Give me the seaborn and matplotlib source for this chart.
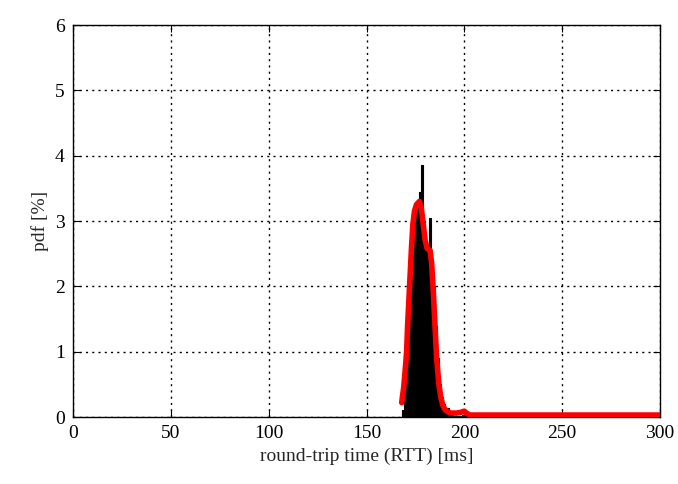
import numpy as np
import pandas as pd
import matplotlib
matplotlib.use("Agg")
import matplotlib.pyplot as plt
import seaborn as sns

# Histogram (black), 1-ms bins: edges and pdf [%]
hist_edges_ms = [168, 169, 170, 171, 172, 173, 174, 175, 176, 177, 178, 179,
                 180, 181, 182, 183, 184, 185, 186, 187, 188, 189, 190, 191,
                 192, 193, 194, 195, 196, 197, 198, 199, 200, 201, 202, 203]
hist_pdf = [0.1, 0.4, 0.8, 1.4, 2.0, 2.6, 3.0, 3.2, 3.3, 3.45, 3.85, 3.0,
            2.7, 2.55, 3.05, 2.4, 2.0, 1.4, 0.9, 0.5, 0.3, 0.2, 0.1, 0.14,
            0.06, 0.03, 0.02, 0.02, 0.02, 0.02, 0.02, 0.03, 0.1, 0.03, 0.01]

# Smoothed pdf (red)
fit_ms = [168.0, 168.3, 169.0, 170.0, 170.5, 171.0, 172.0, 173.0, 173.7, 174.5,
          175.5, 177.0, 178.0, 179.0, 180.0, 181.0, 182.5, 183.3, 184.0, 185.0,
          185.8, 187.0, 188.0, 189.0, 190.0, 191.5, 193.0, 196.0, 198.0, 200.0,
          201.0, 203.0, 300.0]
fit_pdf = [0.22, 0.3, 0.45, 0.8, 1.0, 1.4, 2.0, 2.6, 2.95, 3.15,
           3.25, 3.3, 3.2, 2.95, 2.7, 2.58, 2.55, 2.35, 2.0, 1.4,
           0.92, 0.5, 0.3, 0.18, 0.12, 0.08, 0.06, 0.06, 0.07, 0.09,
           0.06, 0.03, 0.03]

x_ticks = [0, 50, 100, 150, 200, 250, 300]
y_ticks = [0, 1, 2, 3, 4, 5, 6]

sns.set_style("ticks")
plt.rcParams["font.family"] = ["Liberation Serif", "DejaVu Serif"]

fig = plt.figure(figsize=(6.78, 4.84), dpi=100)
ax = fig.add_axes([73 / 678, 1 - 417 / 484, (660 - 73) / 678, (417 - 25) / 484])

edges = list(hist_edges_ms)
centers = [e + 0.5 for e in edges[:-1]]
hist_df = pd.DataFrame({"rtt": centers, "pdf": hist_pdf})
sns.histplot(data=hist_df, x="rtt", weights="pdf", bins=edges, element="step",
             fill=True, color="black", alpha=1.0, linewidth=0.8, ax=ax, zorder=2)

fit_df = pd.DataFrame({"rtt": fit_ms, "pdf": fit_pdf})
sns.lineplot(data=fit_df, x="rtt", y="pdf", color="red", linewidth=4.0, ax=ax,
             zorder=3, sort=False)

ax.set_xlim(0, 300)
ax.set_ylim(0, 6)
ax.set_xticks(x_ticks)
ax.set_yticks(y_ticks)
ax.grid(True, color="black", linestyle=(0, (1.5, 3)), linewidth=1.0)
ax.set_axisbelow(False)
for sp in ax.spines.values():
    sp.set_visible(True)
    sp.set_color("black")
    sp.set_linewidth(1.0)
ax.tick_params(direction="in", top=True, right=True, length=5, width=0.8,
               labelsize=14, colors="black", pad=6)
ax.set_xlabel("round-trip time (RTT) [ms]", fontsize=14)
ax.set_ylabel("pdf [%]", fontsize=14)
ax.set_facecolor("white")
fig.patch.set_facecolor("white")

fig.savefig("out.png", dpi=100)
